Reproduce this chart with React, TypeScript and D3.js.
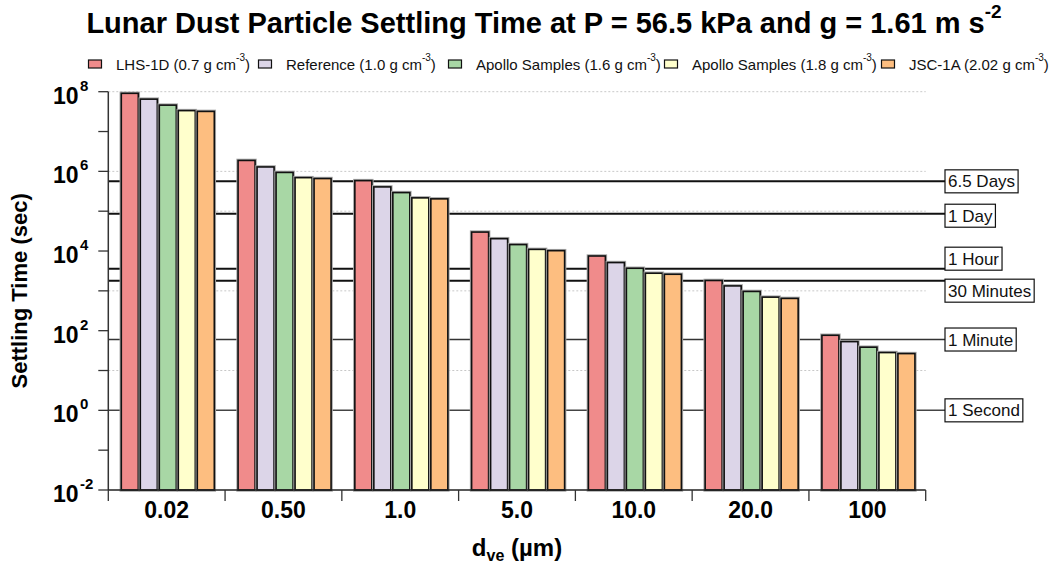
import React, { useEffect, useRef } from 'react';
import * as d3 from 'd3';

// ---------- data ----------
const categories = ['0.02', '0.50', '1.0', '5.0', '10.0', '20.0', '100'];
const seriesNames = ['LHS-1D', 'Reference', 'Apollo Samples', 'Apollo Samples', 'JSC-1A'];
const seriesDensities = ['0.7', '1.0', '1.6', '1.8', '2.02'];
const lhs1d = [9.1e7, 1.88e6, 5.85e5, 2.99e4, 7.5e3, 1.82e3, 76.7];
const reference = [6.5e7, 1.29e6, 4.07e5, 2.04e4, 5.13e3, 1.33e3, 53.1];
const apollo16 = [4.6e7, 9.4e5, 2.93e5, 1.45e4, 3.69e3, 9.66e2, 38.5];
const apollo18 = [3.35e7, 6.95e5, 2.16e5, 1.1e4, 2.77e3, 6.95e2, 28.2];
const jsc1a = [3.2e7, 6.6e5, 2.04e5, 1.02e4, 2.61e3, 6.46e2, 26.6];
const seriesValues = [lhs1d, reference, apollo16, apollo18, jsc1a];

const refLabels = ['6.5 Days', '1 Day', '1 Hour', '30 Minutes', '1 Minute', '1 Second'];
const refValues = [561600, 86400, 3600, 1800, 60, 1];

const yTickExponents = [-2, -1, 0, 1, 2, 3, 4, 5, 6, 7, 8];
const yLabelExponents = [-2, 0, 2, 4, 6, 8];
const gridExponents = [1, 3, 5, 6, 8];

// ---------- styles / layout ----------
const seriesColors = ['#F08B8B', '#DCD5E8', '#A8D7A5', '#FFFFCC', '#FDBE80'];
const refBoxOffsets = [0, 2, -10, 10, 0, 0];
const refStrokeWidths = [2, 2, 2, 2, 1.5, 1.5];
const refStrokeColors = ['#111', '#111', '#111', '#111', '#333', '#444'];
const legendX = [88, 258, 448, 664, 881];
const FONT = 'Liberation Sans, Arial, Helvetica, sans-serif';

export default function App() {
  const ref = useRef<SVGSVGElement>(null);

  useEffect(() => {
    const svg = d3.select(ref.current);
    svg.selectAll('*').remove();
    const W = 1049, H = 564;
    const left = 108.3, right = 925.7, top = 91.7, bottom = 490;

    const y = d3.scaleLog().domain([1e-2, 1e8]).range([bottom, top]);
    const x = d3.scaleBand<string>().domain(categories).range([left, right]).padding(0);
    const xi = d3.scaleBand<number>().domain(d3.range(seriesValues.length))
      .range([12, 107]).paddingInner(2 / 19).paddingOuter(1 / 19);

    svg.append('rect').attr('width', W).attr('height', H).attr('fill', '#fff');

    // title
    const title = svg.append('text').attr('x', 544).attr('y', 33)
      .attr('text-anchor', 'middle').attr('font-family', FONT)
      .attr('font-weight', 'bold').attr('font-size', 29).attr('fill', '#000');
    title.append('tspan').text('Lunar Dust Particle Settling Time at P = 56.5 kPa and g = 1.61 m s');
    title.append('tspan').attr('dy', -15).attr('font-size', 19).text('-2');

    // legend
    seriesNames.forEach((name, i) => {
      const g = svg.append('g').attr('transform', `translate(${legendX[i]},0)`);
      g.append('rect').attr('x', 0.5).attr('y', 60).attr('width', 13).attr('height', 8)
        .attr('fill', seriesColors[i]).attr('stroke', '#111').attr('stroke-width', 1.2);
      const t = g.append('text').attr('x', 28).attr('y', 70).attr('font-family', FONT)
        .attr('font-size', 15).attr('fill', '#111');
      t.append('tspan').text(`${name} (${seriesDensities[i]} g cm`);
      t.append('tspan').attr('dy', -9).attr('font-size', 10).text('-3');
      t.append('tspan').attr('dy', 9).text(')');
    });

    // grid
    svg.append('g').selectAll('line').data(gridExponents).join('line')
      .attr('x1', left).attr('x2', right)
      .attr('y1', d => y(Math.pow(10, d))).attr('y2', d => y(Math.pow(10, d)))
      .attr('stroke', '#c8c8c8').attr('stroke-width', 1).attr('stroke-dasharray', '2,2');

    // reference lines
    svg.append('g').selectAll('line').data(refValues).join('line')
      .attr('x1', left).attr('x2', 945)
      .attr('y1', d => y(d)).attr('y2', d => y(d))
      .attr('stroke', (d, i) => refStrokeColors[i]).attr('stroke-width', (d, i) => refStrokeWidths[i]);

    // bars
    const gBars = svg.append('g');
    categories.forEach((cat, ci) => {
      seriesValues.forEach((vals, si) => {
        const bx = (x(cat) as number) + (xi(si) as number);
        const by = y(vals[ci]);
        const bw = xi.bandwidth();
        const bh = bottom - by;
        gBars.append('rect').attr('x', bx).attr('y', by).attr('width', bw).attr('height', bh)
          .attr('fill', 'none').attr('stroke', '#a8a8a8').attr('stroke-width', 3.5);
        gBars.append('rect').attr('x', bx).attr('y', by).attr('width', bw).attr('height', bh)
          .attr('fill', seriesColors[si]).attr('stroke', '#111').attr('stroke-width', 1.6);
      });
    });

    // reference label boxes
    refLabels.forEach((lab, i) => {
      const cy = y(refValues[i]) + refBoxOffsets[i];
      const g = svg.append('g');
      const t = g.append('text').attr('x', 948).attr('y', cy + 6).attr('font-family', FONT)
        .attr('font-size', 17).attr('fill', '#111').text(lab);
      const w = (t.node() as SVGTextElement).getComputedTextLength();
      g.insert('rect', 'text').attr('x', 945).attr('y', cy - 11.5).attr('width', w + 6).attr('height', 23)
        .attr('fill', '#fff').attr('stroke', '#111').attr('stroke-width', 1.2);
    });

    // y axis
    const gy = svg.append('g');
    gy.append('line').attr('x1', left).attr('x2', left).attr('y1', top).attr('y2', bottom)
      .attr('stroke', '#333').attr('stroke-width', 1.5);
    gy.selectAll('line.t').data(yTickExponents).join('line').attr('class', 't')
      .attr('x1', left - 10).attr('x2', left)
      .attr('y1', d => y(Math.pow(10, d))).attr('y2', d => y(Math.pow(10, d)))
      .attr('stroke', '#333').attr('stroke-width', 1.3);
    yLabelExponents.forEach(e => {
      const ty = y(Math.pow(10, e));
      gy.append('text').attr('x', 78.5).attr('y', ty + 12).attr('text-anchor', 'end')
        .attr('font-family', FONT).attr('font-weight', 'bold').attr('font-size', 23).attr('fill', '#000').text('10');
      gy.append('text').attr('x', 80).attr('y', ty - 1).attr('font-family', FONT)
        .attr('font-weight', 'bold').attr('font-size', 15).attr('fill', '#000').text(String(e));
    });
    svg.append('text').attr('transform', `translate(27,${(top + bottom) / 2}) rotate(-90)`)
      .attr('text-anchor', 'middle').attr('font-family', FONT).attr('font-weight', 'bold')
      .attr('font-size', 22).attr('fill', '#000').text('Settling Time (sec)');

    // x axis
    const gx = svg.append('g');
    gx.append('line').attr('x1', left).attr('x2', right).attr('y1', bottom).attr('y2', bottom)
      .attr('stroke', '#222').attr('stroke-width', 1.6);
    const bounds = [...categories.map(c => x(c) as number), right];
    gx.selectAll('line.t').data(bounds).join('line').attr('class', 't')
      .attr('x1', d => d).attr('x2', d => d).attr('y1', bottom).attr('y2', bottom + 11)
      .attr('stroke', '#333').attr('stroke-width', 1.3);
    gx.selectAll('text').data(categories).join('text')
      .attr('x', d => (x(d) as number) + x.bandwidth() / 2).attr('y', 518)
      .attr('text-anchor', 'middle').attr('font-family', FONT).attr('font-weight', 'bold')
      .attr('font-size', 23).attr('fill', '#000').text(d => d);
    const xt = svg.append('text').attr('x', (left + right) / 2).attr('y', 556)
      .attr('text-anchor', 'middle').attr('font-family', FONT).attr('font-weight', 'bold')
      .attr('font-size', 24).attr('fill', '#000');
    xt.append('tspan').text('d');
    xt.append('tspan').attr('dy', 5).attr('font-size', 16).text('ve');
    xt.append('tspan').attr('dy', -5).text(' (µm)');
  }, []);

  return (
    <svg ref={ref} width={1049} height={564}
      style={{ position: 'absolute', left: 0, top: 0, background: '#fff' }} />
  );
}
